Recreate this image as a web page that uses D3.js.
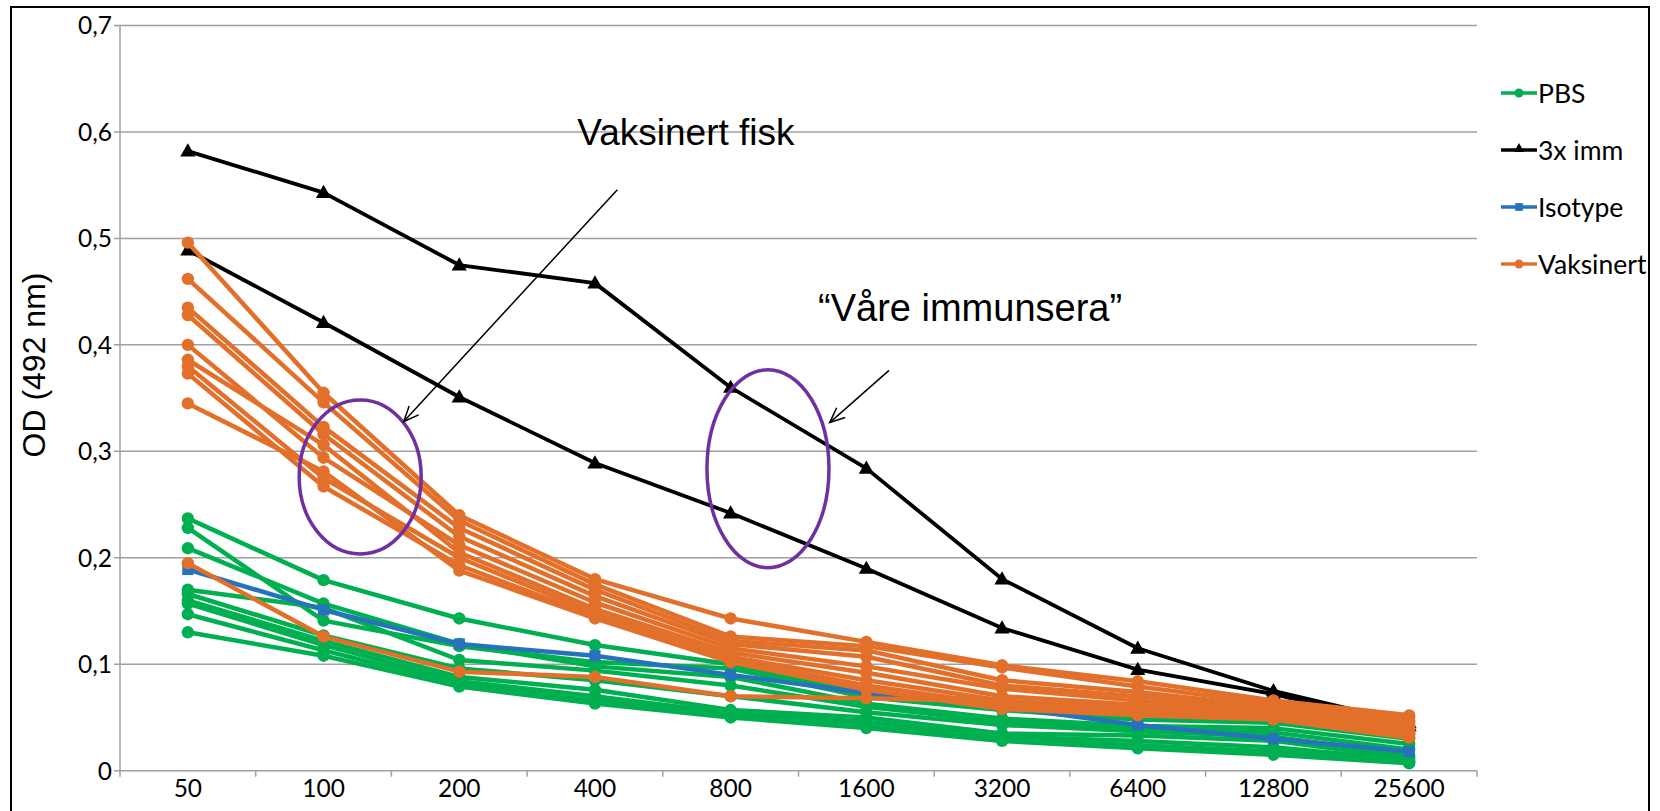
<!DOCTYPE html>
<html lang="no">
<head>
<meta charset="utf-8">
<script src="https://cdn.jsdelivr.net/npm/d3@7"></script>
<style>
  body { margin: 0; background: #fff; }
  svg { display: block; }
</style>
</head>
<body>
<div id="chart"></div>
<script>
// dilutions on the x axis
var dilutions = ["50", "100", "200", "400", "800", "1600", "3200", "6400", "12800", "25600"];
var yTicks = [0, 0.1, 0.2, 0.3, 0.4, 0.5, 0.6, 0.7];

// PBS (green)
var pbsSeries = [
  [0.237, 0.179, 0.143, 0.118, 0.100, 0.072, 0.066, 0.054, 0.051, 0.035],
  [0.228, 0.141, 0.117, 0.102, 0.096, 0.069, 0.057, 0.048, 0.045, 0.030],
  [0.209, 0.157, 0.119, 0.098, 0.088, 0.063, 0.049, 0.042, 0.040, 0.025],
  [0.170, 0.153, 0.104, 0.094, 0.080, 0.060, 0.046, 0.039, 0.036, 0.020],
  [0.166, 0.127, 0.096, 0.085, 0.070, 0.055, 0.043, 0.037, 0.032, 0.015],
  [0.160, 0.122, 0.088, 0.076, 0.057, 0.050, 0.035, 0.033, 0.028, 0.012],
  [0.157, 0.118, 0.084, 0.070, 0.054, 0.046, 0.032, 0.028, 0.022, 0.010],
  [0.147, 0.113, 0.081, 0.066, 0.052, 0.042, 0.029, 0.024, 0.018, 0.008],
  [0.130, 0.108, 0.079, 0.063, 0.050, 0.040, 0.028, 0.021, 0.015, 0.007]
];

// 3x imm (black)
var immSeries = [
  [0.582, 0.543, 0.475, 0.458, 0.360, 0.284, 0.180, 0.115, 0.075, 0.045],
  [0.489, 0.421, 0.351, 0.289, 0.242, 0.190, 0.134, 0.095, 0.072, 0.042]
];

// Isotype (blue)
var isotypeSeries = [
  [0.189, 0.151, 0.119, 0.108, 0.090, 0.073, 0.060, 0.043, 0.030, 0.018]
];

// Vaksinert (orange)
var vaksinertSeries = [
  [0.496, 0.355, 0.240, 0.180, 0.143, 0.121, 0.099, 0.084, 0.066, 0.052],
  [0.462, 0.346, 0.235, 0.175, 0.126, 0.117, 0.097, 0.079, 0.063, 0.050],
  [0.435, 0.323, 0.228, 0.170, 0.122, 0.113, 0.085, 0.074, 0.060, 0.047],
  [0.428, 0.316, 0.220, 0.164, 0.119, 0.107, 0.080, 0.070, 0.058, 0.045],
  [0.400, 0.294, 0.212, 0.158, 0.115, 0.098, 0.077, 0.066, 0.055, 0.042],
  [0.386, 0.306, 0.205, 0.152, 0.111, 0.092, 0.070, 0.062, 0.053, 0.040],
  [0.380, 0.275, 0.200, 0.148, 0.107, 0.085, 0.066, 0.058, 0.051, 0.037],
  [0.373, 0.267, 0.193, 0.145, 0.104, 0.080, 0.062, 0.055, 0.050, 0.034],
  [0.345, 0.281, 0.188, 0.143, 0.102, 0.076, 0.058, 0.052, 0.048, 0.031],
  [0.195, 0.126, 0.093, 0.088, 0.070, 0.068, 0.065, 0.060, 0.050, 0.036]
];

var legendLabels = ["PBS", "3x imm", "Isotype", "Vaksinert"];
var legendColors = ["#00b050", "#000000", "#2672bd", "#e3702a"];
var legendShapes = ["circle", "triangle", "square", "circle"];

var width = 1660;
var height = 811;

var svg = d3.select("#chart")
  .append("svg")
  .attr("width", width)
  .attr("height", height);

// outer frame (bottom runs off the picture)
svg.append("rect")
  .attr("x", 11)
  .attr("y", 7)
  .attr("width", 1638)
  .attr("height", 900)
  .style("fill", "none")
  .style("stroke", "#000")
  .style("stroke-width", 2);

var plotLeft = 120, plotRight = 1477, plotTop = 25.5, plotBottom = 770.7;

var xBand = d3.scaleBand()
  .domain(dilutions)
  .range([plotLeft, plotRight]);

var x = d3.scalePoint()
  .domain(dilutions)
  .range([plotLeft, plotRight])
  .padding(0.5);

var y = d3.scaleLinear()
  .domain([0, 0.7])
  .range([plotBottom, plotTop]);

var step = x.step();
// fractional category position -> pixel
function xi(i) { return x(dilutions[0]) + i * step; }

// gridlines
svg.append("g")
  .selectAll("line")
  .data(yTicks)
  .enter()
  .append("line")
  .attr("x1", plotLeft - 6)
  .attr("x2", plotRight)
  .attr("y1", function(d) { return y(d); })
  .attr("y2", function(d) { return y(d); })
  .style("stroke", "#a0a0a0")
  .style("stroke-width", 1.5);

// y axis line
svg.append("line")
  .attr("x1", plotLeft).attr("x2", plotLeft)
  .attr("y1", plotTop).attr("y2", plotBottom)
  .style("stroke", "#a0a0a0")
  .style("stroke-width", 1.5);

// y tick labels
svg.append("g")
  .selectAll("text")
  .data(yTicks)
  .enter()
  .append("text")
  .attr("x", 112)
  .attr("y", function(d) { return y(d); })
  .attr("dy", "0.36em")
  .attr("text-anchor", "end")
  .style("font-family", "Lato, 'Open Sans', sans-serif")
  .style("font-size", "24.5px")
  .style("fill", "#000")
  .text(function(d) { return d === 0 ? "0" : d3.format(".1f")(d).replace(".", ","); });

// x ticks at band edges
var edges = dilutions.map(function(d) { return xBand(d); }).concat([plotRight]);
svg.append("g")
  .selectAll("line")
  .data(edges)
  .enter()
  .append("line")
  .attr("x1", function(d) { return d; })
  .attr("x2", function(d) { return d; })
  .attr("y1", plotBottom)
  .attr("y2", plotBottom + 6)
  .style("stroke", "#a0a0a0")
  .style("stroke-width", 1.5);

svg.append("g")
  .selectAll("text")
  .data(dilutions)
  .enter()
  .append("text")
  .attr("x", function(d) { return x(d); })
  .attr("y", 797)
  .attr("text-anchor", "middle")
  .style("font-family", "Lato, 'Open Sans', sans-serif")
  .style("font-size", "24.5px")
  .style("fill", "#000")
  .text(function(d) { return d; });

// y axis title
svg.append("text")
  .attr("transform", "translate(45," + 365 + ") rotate(-90)")
  .attr("text-anchor", "middle")
  .style("font-family", "'Liberation Sans', Arial, sans-serif")
  .style("font-size", "32px")
  .style("fill", "#000")
  .text("OD (492 nm)");

var line = d3.line()
  .x(function(d, i) { return x(dilutions[i]); })
  .y(function(d) { return y(d); });

var triangle = d3.symbol().type(d3.symbolTriangle).size(100);
var square = d3.symbol().type(d3.symbolSquare).size(125);

function drawGroup(series, color, shape, lw) {
  var g = svg.append("g");
  series.forEach(function(s) {
    g.append("path")
      .attr("d", line(s))
      .style("fill", "none")
      .style("stroke", color)
      .style("stroke-width", lw)
      .style("stroke-linejoin", "round");
    s.forEach(function(v, i) {
      var cx = x(dilutions[i]), cy = y(v);
      if (shape === "circle") {
        g.append("circle")
          .attr("cx", cx).attr("cy", cy).attr("r", 6.2)
          .style("fill", color);
      } else if (shape === "triangle") {
        g.append("path")
          .attr("d", triangle())
          .attr("transform", "translate(" + cx + "," + (cy + 1) + ")")
          .style("fill", color);
      } else {
        g.append("path")
          .attr("d", square())
          .attr("transform", "translate(" + cx + "," + cy + ")")
          .style("fill", color);
      }
    });
  });
}

drawGroup(pbsSeries, legendColors[0], "circle", 4.5);
drawGroup(immSeries, legendColors[1], "triangle", 3.8);
drawGroup(isotypeSeries, legendColors[2], "square", 4.5);
drawGroup(vaksinertSeries, legendColors[3], "circle", 4.5);

// legend
var legend = svg.append("g");
legendLabels.forEach(function(label, i) {
  var ly = 93 + i * 57;
  legend.append("line")
    .attr("x1", 1501).attr("x2", 1537)
    .attr("y1", ly).attr("y2", ly)
    .style("stroke", legendColors[i])
    .style("stroke-width", 3.5);
  if (legendShapes[i] === "circle") {
    legend.append("circle")
      .attr("cx", 1519).attr("cy", ly).attr("r", 4.5)
      .style("fill", legendColors[i]);
  } else if (legendShapes[i] === "triangle") {
    legend.append("path")
      .attr("d", d3.symbol().type(d3.symbolTriangle).size(45)())
      .attr("transform", "translate(1519," + (ly - 1) + ")")
      .style("fill", legendColors[i]);
  } else {
    legend.append("path")
      .attr("d", d3.symbol().type(d3.symbolSquare).size(60)())
      .attr("transform", "translate(1519," + ly + ")")
      .style("fill", legendColors[i]);
  }
  legend.append("text")
    .attr("x", 1538)
    .attr("y", ly)
    .attr("dy", "0.36em")
    .style("font-family", "Lato, 'Open Sans', sans-serif")
    .style("font-size", "26.5px")
    .style("fill", "#000")
    .text(label);
});

// annotations: ellipses, arrows, texts
var defs = svg.append("defs");
defs.append("marker")
  .attr("id", "openArrow")
  .attr("viewBox", "-16 -8 18 16")
  .attr("refX", 0)
  .attr("refY", 0)
  .attr("markerWidth", 18)
  .attr("markerHeight", 16)
  .attr("markerUnits", "userSpaceOnUse")
  .attr("orient", "auto")
  .append("path")
  .attr("d", "M-15,-6.5 L0,0 L-15,6.5")
  .style("fill", "none")
  .style("stroke", "#000")
  .style("stroke-width", 1.5);

var ellipses = [
  { i: 1.27, v: 0.276, rx: 61, ry: 77 },
  { i: 4.275, v: 0.2836, rx: 61, ry: 99 }
];
svg.append("g")
  .selectAll("ellipse")
  .data(ellipses)
  .enter()
  .append("ellipse")
  .attr("cx", function(d) { return xi(d.i); })
  .attr("cy", function(d) { return y(d.v); })
  .attr("rx", function(d) { return d.rx; })
  .attr("ry", function(d) { return d.ry; })
  .style("fill", "none")
  .style("stroke", "#7030a0")
  .style("stroke-width", 3.5);

var arrows = [
  { i1: 3.165, v1: 0.5458, i2: 1.591, v2: 0.328 },
  { i1: 5.167, v1: 0.376, i2: 4.730, v2: 0.327 }
];
svg.append("g")
  .selectAll("line")
  .data(arrows)
  .enter()
  .append("line")
  .attr("x1", function(d) { return xi(d.i1); })
  .attr("y1", function(d) { return y(d.v1); })
  .attr("x2", function(d) { return xi(d.i2); })
  .attr("y2", function(d) { return y(d.v2); })
  .style("stroke", "#000")
  .style("stroke-width", 1.5)
  .attr("marker-end", "url(#openArrow)");

svg.append("text")
  .attr("x", xi(2.87))
  .attr("y", y(0.588))
  .style("font-family", "'Liberation Sans', Arial, sans-serif")
  .style("font-size", "37px")
  .style("fill", "#000")
  .text("Vaksinert fisk");

svg.append("text")
  .attr("x", xi(4.644))
  .attr("y", y(0.4227))
  .style("font-family", "'Liberation Sans', Arial, sans-serif")
  .style("font-size", "38px")
  .style("fill", "#000")
  .text("\u201cVåre immunsera\u201d");
</script>
</body>
</html>
